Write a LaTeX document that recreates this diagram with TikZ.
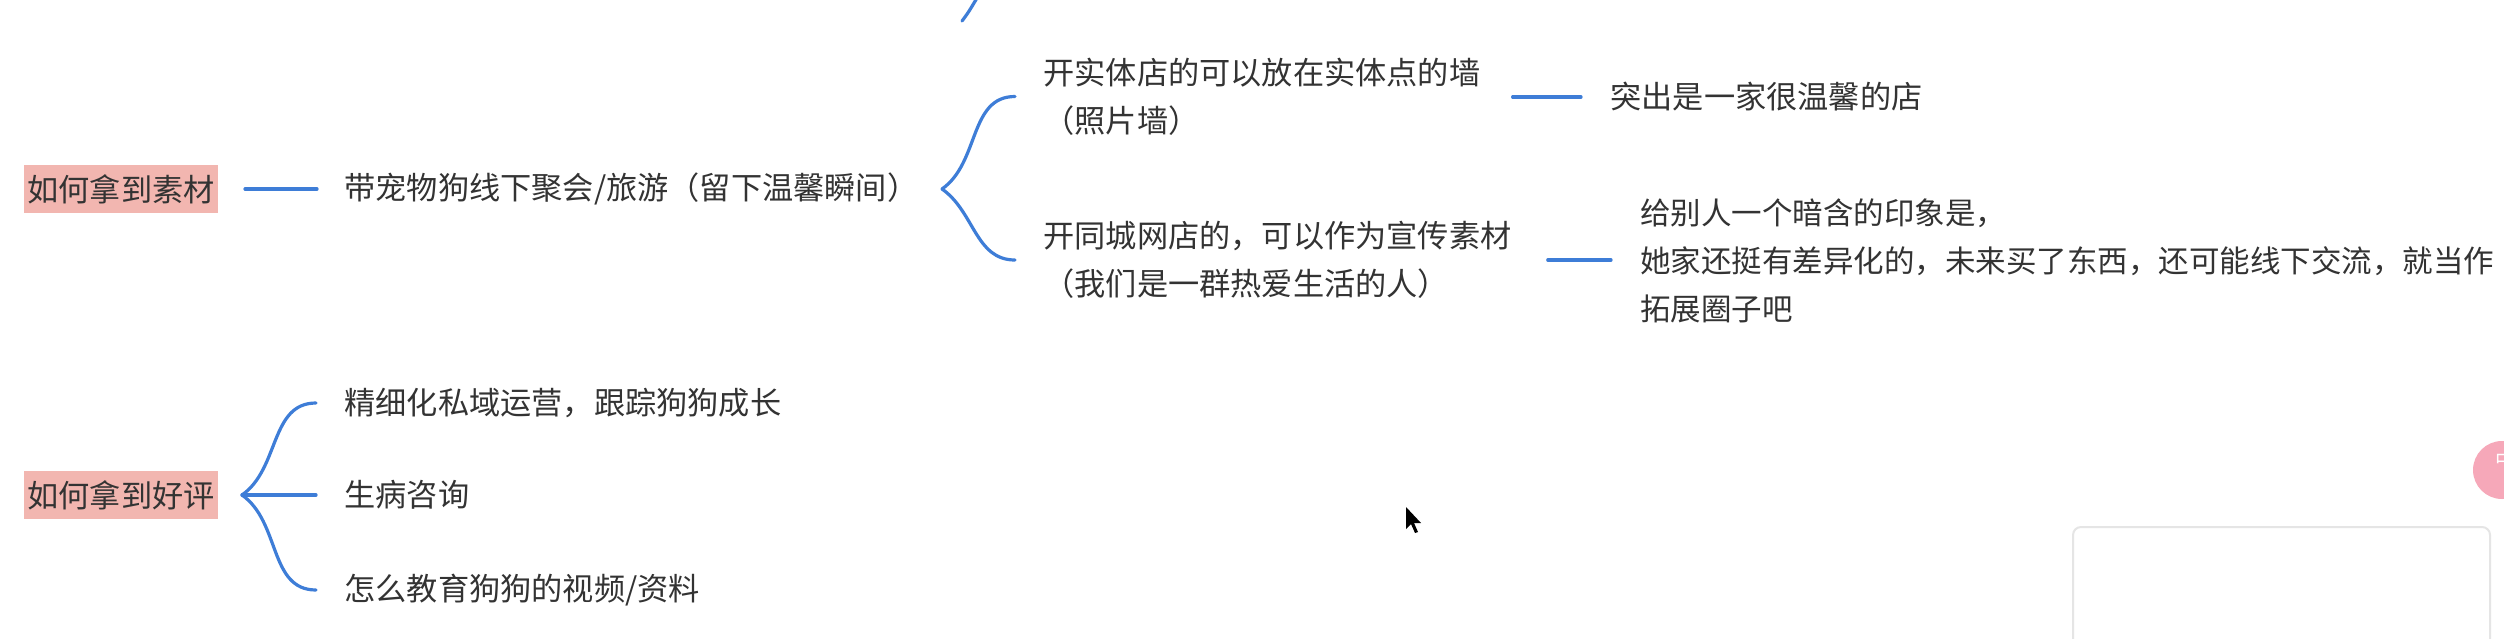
\documentclass[tikz,border=0pt]{standalone}
\usepackage{fontspec}
\setmainfont{Noto Sans CJK SC}
\usepackage{xcolor}
\definecolor{linkblue}{RGB}{62,125,215}
\definecolor{tagred}{RGB}{242,182,176}
\definecolor{ink}{RGB}{51,51,51}
\definecolor{btnpink}{RGB}{246,168,185}
\tikzset{
txt/.style={anchor=west,inner sep=0pt,text=ink,align=left,font=\fontsize{15.6pt}{23.8pt}\selectfont},
tag/.style={txt,fill=tagred,inner xsep=1.5pt,minimum height=24pt},
conn/.style={linkblue,line width=1.6pt,line cap=round}
}

\begin{document}
\begin{tikzpicture}[x=0.5pt,y=-0.5pt]
\useasboundingbox(0,0)rectangle(2504,638);
\fill[white](0,0)rectangle(2504,638);
\clip(0,0)rectangle(2504,638);
\node[tag](b1)at(24,189){如何拿到素材};
\node[txt](t1)at(344,189){带宠物狗线下聚会/旅游（留下温馨瞬间）};
\node[txt](c1)at(1043,96.5){开实体店的可以放在实体点的墙\\（照片墙）};
\node[txt](c2)at(1043,260){开同城网店的，可以作为宣传素材\\（我们是一群热爱生活的人）};
\node[txt](d1)at(1610,97){突出是一家很温馨的店};
\node[txt,font=\fontsize{15.25pt}{24pt}\selectfont](d2)at(1640,261){给别人一个暗含的印象是，\\她家还挺有差异化的，未来买了东西，还可能线下交流，就当作\\拓展圈子吧};
\node[tag](b2)at(24,495){如何拿到好评};
\node[txt](e1)at(344,403){精细化私域运营，跟踪狗狗成长};
\node[txt](e2)at(344,495){生病咨询};
\node[txt](e3)at(344,590){怎么教育狗狗的视频/资料};
\coordinate(k1)at(942,189);
\coordinate(k2)at(242,495);
\draw[conn]([xshift=13.5pt]b1.east)--([xshift=-13.5pt]t1.west);
\draw[conn](k1)to[out=35,in=180]([xshift=-14pt]c1.west);
\draw[conn](k1)to[out=-35,in=180]([xshift=-14pt]c2.west);
\draw[conn]([xshift=16pt]c1.east|-d1.west)--([xshift=-14.5pt]d1.west);
\draw[conn]([xshift=18pt]c2.east)--([xshift=-14.5pt]d2.west|-c2.east);
\draw[conn](k2)to[out=35,in=180]([xshift=-14pt]e1.west);
\draw[conn](k2)--([xshift=-14pt]e2.west|-k2);
\draw[conn](k2)to[out=-35,in=180]([xshift=-14pt]e3.west);
\draw[conn](962,21)..controls(968,13)..(977,-2);
\draw[gray!20,line width=1pt,fill=white,rounded corners=4pt](2073,527)rectangle(2490,680);
\fill[btnpink](2502,470)circle(14.5pt);
\node[text=white,inner sep=0pt,font=\fontsize{10pt}{12pt}\selectfont](btn)at(2505,460){中};
\fill[black](1406,507)--(1406,529)--(1411,524)--(1415,533)--(1418,532)--(1414,523)--(1421,523)--cycle;
\end{tikzpicture}
\end{document}
